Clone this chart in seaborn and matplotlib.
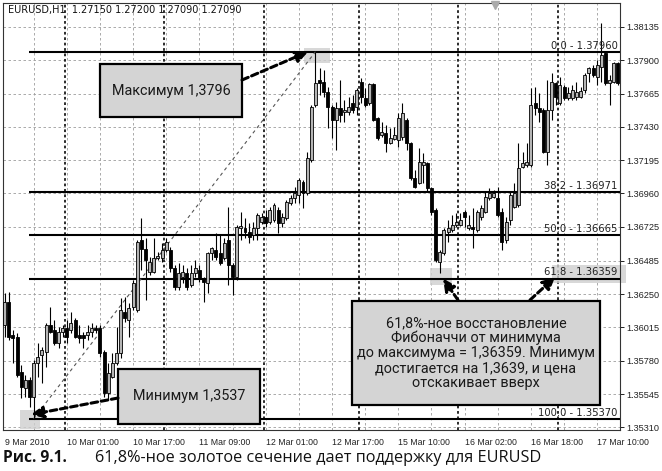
import numpy as np
import pandas as pd
import matplotlib
matplotlib.use("Agg")
import matplotlib.pyplot as plt
import seaborn as sns
from matplotlib.patches import Rectangle

sns.set_style("white")
plt.rcParams["font.family"] = ["DejaVu Sans"]

# --- data (EURUSD H1) ---
symbol_info = "EURUSD,H1  1.27150 1.27200 1.27090 1.27090"

opens = [
    1.36032, 1.36194, 1.35961, 1.35947, 1.35700, 1.35587, 1.35644, 1.35524, 1.35764, 1.35820,
    1.35841, 1.36032, 1.35997, 1.35905, 1.35983, 1.36011, 1.35997, 1.36067, 1.35961, 1.35961,
    1.35961, 1.35983, 1.36011, 1.36011, 1.35841, 1.35552, 1.35665, 1.35764, 1.35834, 1.36124,
    1.36067, 1.36159, 1.36138, 1.36632, 1.36568, 1.36406, 1.36406, 1.36505, 1.36505, 1.36561,
    1.36561, 1.36434, 1.36300, 1.36371, 1.36399, 1.36314, 1.36399, 1.36420, 1.36364, 1.36328,
    1.36540, 1.36561, 1.36540, 1.36505, 1.36632, 1.36455, 1.36371, 1.36717, 1.36717, 1.36688,
    1.36667, 1.36717, 1.36759, 1.36794, 1.36759, 1.36773, 1.36844, 1.36752, 1.36787, 1.36893,
    1.36928, 1.36949, 1.37041, 1.36964, 1.37196, 1.37585, 1.37761, 1.37747, 1.37676, 1.37570,
    1.37479, 1.37563, 1.37535, 1.37535, 1.37599, 1.37570, 1.37747, 1.37634, 1.37599, 1.37733,
    1.37493, 1.37373, 1.37387, 1.37316, 1.37345, 1.37338, 1.37359, 1.37479, 1.37316, 1.37069,
    1.37034, 1.37161, 1.37175, 1.36999, 1.36844, 1.36477, 1.36540, 1.36688, 1.36702, 1.36738,
    1.36738, 1.36829, 1.36717, 1.36724, 1.36702, 1.36794, 1.36829, 1.36928, 1.36935, 1.36928,
    1.36829, 1.36632, 1.36773, 1.36865, 1.36879, 1.37147, 1.37161, 1.37161, 1.37599, 1.37563,
    1.37549, 1.37253, 1.37549, 1.37740, 1.37599, 1.37712, 1.37634, 1.37634, 1.37641, 1.37641,
    1.37690, 1.37810, 1.37846, 1.37782, 1.37853, 1.37952, 1.37740, 1.37747, 1.37881,
]
highs = [
    1.36258, 1.36265, 1.35997, 1.35976, 1.35750, 1.35679, 1.35665, 1.35785, 1.35905, 1.35877,
    1.36046, 1.36159, 1.36067, 1.36018, 1.36032, 1.36067, 1.36124, 1.36081, 1.36032, 1.35983,
    1.36032, 1.36046, 1.36032, 1.36032, 1.35856, 1.35764, 1.35834, 1.36018, 1.36223, 1.36230,
    1.36187, 1.36350, 1.36632, 1.36787, 1.36646, 1.36512, 1.36646, 1.36547, 1.36611, 1.36646,
    1.36582, 1.36455, 1.36470, 1.36455, 1.36434, 1.36455, 1.36491, 1.36455, 1.36371, 1.36547,
    1.36582, 1.36681, 1.36667, 1.36646, 1.36865, 1.36470, 1.36738, 1.36829, 1.36787, 1.36752,
    1.36759, 1.36822, 1.36822, 1.36844, 1.36865, 1.36893, 1.36865, 1.36822, 1.36914, 1.36949,
    1.37006, 1.37069, 1.37055, 1.37253, 1.37585, 1.37960, 1.37846, 1.37832, 1.37712, 1.37585,
    1.37606, 1.37761, 1.37620, 1.37641, 1.37655, 1.37705, 1.37775, 1.37705, 1.37740, 1.37740,
    1.37500, 1.37465, 1.37443, 1.37422, 1.37429, 1.37528, 1.37599, 1.37493, 1.37323, 1.37126,
    1.37281, 1.37246, 1.37182, 1.37006, 1.36858, 1.36561, 1.36717, 1.36773, 1.36808, 1.36822,
    1.36822, 1.36844, 1.36808, 1.36858, 1.36844, 1.36879, 1.36971, 1.36999, 1.36985, 1.37006,
    1.36858, 1.36794, 1.36971, 1.37034, 1.37316, 1.37253, 1.37316, 1.37705, 1.37712, 1.37669,
    1.37563, 1.37761, 1.37810, 1.37747, 1.37782, 1.37726, 1.37712, 1.37726, 1.37747, 1.37712,
    1.37810, 1.37853, 1.37867, 1.37902, 1.38163, 1.37959, 1.37796, 1.37888, 1.37888,
]
lows = [
    1.35947, 1.35926, 1.35764, 1.35665, 1.35517, 1.35524, 1.35453, 1.35370, 1.35665, 1.35623,
    1.35736, 1.35976, 1.35891, 1.35870, 1.35947, 1.35905, 1.35976, 1.35940, 1.35905, 1.35870,
    1.35926, 1.35947, 1.35976, 1.35806, 1.35524, 1.35503, 1.35658, 1.35750, 1.35799, 1.36053,
    1.35947, 1.36138, 1.36124, 1.36420, 1.36208, 1.36385, 1.36399, 1.36491, 1.36477, 1.36547,
    1.36406, 1.36279, 1.36279, 1.36328, 1.36279, 1.36300, 1.36371, 1.36335, 1.36194, 1.36258,
    1.36491, 1.36491, 1.36455, 1.36491, 1.36314, 1.36244, 1.36350, 1.36632, 1.36646, 1.36611,
    1.36632, 1.36632, 1.36745, 1.36724, 1.36745, 1.36759, 1.36681, 1.36724, 1.36773, 1.36879,
    1.36893, 1.36893, 1.36858, 1.36949, 1.37182, 1.37570, 1.37655, 1.37641, 1.37422, 1.37352,
    1.37267, 1.37465, 1.37465, 1.37514, 1.37528, 1.37514, 1.37599, 1.37570, 1.37585, 1.37472,
    1.37338, 1.37359, 1.37253, 1.37309, 1.37338, 1.37288, 1.37338, 1.37267, 1.37055, 1.36999,
    1.37027, 1.37034, 1.36971, 1.36808, 1.36477, 1.36399, 1.36526, 1.36618, 1.36688, 1.36724,
    1.36731, 1.36724, 1.36702, 1.36575, 1.36688, 1.36773, 1.36822, 1.36914, 1.36928, 1.36794,
    1.36561, 1.36611, 1.36738, 1.36858, 1.36865, 1.37140, 1.37147, 1.37147, 1.37514, 1.37465,
    1.37246, 1.37161, 1.37479, 1.37585, 1.37585, 1.37620, 1.37620, 1.37620, 1.37620, 1.37634,
    1.37669, 1.37747, 1.37782, 1.37726, 1.37747, 1.37726, 1.37585, 1.37740, 1.37726,
]
closes = [
    1.36194, 1.35947, 1.35940, 1.35679, 1.35594, 1.35644, 1.35524, 1.35764, 1.35806, 1.35856,
    1.36032, 1.35983, 1.35905, 1.35983, 1.36011, 1.35947, 1.36046, 1.35947, 1.35940, 1.35940,
    1.35983, 1.36011, 1.35997, 1.35834, 1.35552, 1.35693, 1.35764, 1.35834, 1.36138, 1.36081,
    1.36152, 1.36328, 1.36618, 1.36568, 1.36491, 1.36477, 1.36505, 1.36519, 1.36561, 1.36618,
    1.36434, 1.36300, 1.36399, 1.36406, 1.36300, 1.36399, 1.36434, 1.36364, 1.36335, 1.36540,
    1.36575, 1.36512, 1.36470, 1.36611, 1.36455, 1.36371, 1.36724, 1.36731, 1.36688, 1.36653,
    1.36717, 1.36808, 1.36794, 1.36752, 1.36844, 1.36879, 1.36752, 1.36794, 1.36900, 1.36928,
    1.36964, 1.37055, 1.36964, 1.37211, 1.37570, 1.37740, 1.37740, 1.37676, 1.37570, 1.37479,
    1.37563, 1.37514, 1.37549, 1.37570, 1.37549, 1.37690, 1.37641, 1.37585, 1.37733, 1.37479,
    1.37352, 1.37394, 1.37316, 1.37352, 1.37373, 1.37493, 1.37528, 1.37316, 1.37069, 1.37006,
    1.37182, 1.37182, 1.36999, 1.36829, 1.36491, 1.36547, 1.36702, 1.36717, 1.36738, 1.36759,
    1.36773, 1.36794, 1.36738, 1.36709, 1.36829, 1.36858, 1.36935, 1.36964, 1.36964, 1.36808,
    1.36618, 1.36759, 1.36949, 1.36964, 1.37140, 1.37175, 1.37182, 1.37585, 1.37563, 1.37535,
    1.37253, 1.37549, 1.37747, 1.37641, 1.37726, 1.37634, 1.37669, 1.37690, 1.37676, 1.37683,
    1.37796, 1.37846, 1.37796, 1.37867, 1.37937, 1.37740, 1.37761, 1.37881, 1.37740,
]

price_ticks = [1.38135, 1.37900, 1.37665, 1.37430, 1.37195, 1.36960, 1.36725,
               1.36485, 1.36250, 1.36015, 1.35780, 1.35545, 1.35310]
time_labels = ["9 Mar 2010", "10 Mar 01:00", "10 Mar 17:00", "11 Mar 09:00", "12 Mar 01:00",
               "12 Mar 17:00", "15 Mar 10:00", "16 Mar 02:00", "16 Mar 18:00", "17 Mar 10:00"]
time_label_bars = [0, 15, 31, 47, 63, 79, 95, 111, 127, 143]
day_start_bars = [15, 39, 63, 86, 110, 134]

fib_low_bar, fib_low = 7, 1.3537
fib_high_bar, fib_high = 75, 1.3796
retrace_bar = 105
fib_levels = [0.0, 38.2, 50.0, 61.8, 100.0]

caption_num = "Рис. 9.1."
caption_text = "61,8%-ное золотое сечение дает поддержку для EURUSD"
note_max = "Максимум 1,3796"
note_min = "Минимум 1,3537"
note_fib = ("61,8%-ное восстановление\nФибоначчи от минимума\n"
            "до максимума = 1,36359. Минимум\nдостигается на 1,3639, и цена\n"
            "отскакивает вверх")

df = pd.DataFrame({"open": opens, "high": highs, "low": lows, "close": closes})
df["bar"] = np.arange(len(df))
df["bull"] = df["close"] >= df["open"]

# --- figure ---
fig = plt.figure(figsize=(6.62, 4.71), dpi=100)
ax = fig.add_axes([3 / 662, 41 / 471, 617 / 662, 427 / 471])

ax.set_xlim(-0.4, 148.5)
ax.set_ylim(1.35291, 1.38304)

# grid
for y in price_ticks:
    ax.axhline(y, color="#9c9c9c", lw=0.6, ls=(0, (3, 3)), zorder=0)
for xg in np.arange(7, len(df), 8):
    ax.axvline(xg, color="#9c9c9c", lw=0.6, ls=(0, (3, 3)), zorder=0)
for d in day_start_bars:
    ax.axvline(d - 0.5, color="#1a1a1a", lw=1.3, ls=(0, (1.5, 1.5)), zorder=0.5)

# highlight marks
hl = dict(facecolor="#cfcfcf", edgecolor="none", alpha=0.8, zorder=1)
ax.add_patch(Rectangle((fib_low_bar - 3.3, fib_low - 0.0007), 4.9, 0.0013, **hl))
ax.add_patch(Rectangle((fib_high_bar - 2.7, fib_high - 0.0008), 6.2, 0.00107, **hl))
ax.add_patch(Rectangle((retrace_bar - 2.3, lows[retrace_bar] - 0.00085), 5.3, 0.0012, **hl))
fib618 = fib_high - (fib_high - fib_low) * 0.618
ax.add_patch(Rectangle((132.1, fib618 - 0.00031), 17.8, 0.00127, clip_on=False, **hl))

# fibonacci levels
for lvl in fib_levels:
    price = fib_high - (fib_high - fib_low) * lvl / 100
    ax.hlines(price, fib_low_bar - 1.2, 148.5, color="black", lw=1.5, zorder=2)
    ax.annotate(f"{lvl:.1f} - {price:.5f}", xy=(0.996, price),
                xycoords=ax.get_yaxis_transform(), xytext=(0, 0.8),
                textcoords="offset points", ha="right", va="bottom",
                fontsize=7.2, color="#222222", zorder=4)

# trend line between the swing points
sns.lineplot(x=[fib_low_bar, fib_high_bar], y=[fib_low, fib_high], ax=ax,
             color="#555555", lw=0.8, linestyle=(0, (3, 3)), zorder=2)

# candles
ax.vlines(df["bar"], df["low"], df["high"], color="black", lw=0.8, zorder=3)
body_lo = df[["open", "close"]].min(axis=1)
body_h = (df["close"] - df["open"]).abs().clip(lower=0.00002)
ax.bar(df["bar"], body_h, bottom=body_lo, width=0.72,
       color=np.where(df["bull"], "#b5b5b5", "black"),
       edgecolor="black", linewidth=0.6, zorder=3)

# axes styling
ax.yaxis.tick_right()
ax.set_yticks(price_ticks)
ax.set_yticklabels([f"{p:.5f}" for p in price_ticks], family="Liberation Sans", fontsize=6.6)
ax.set_xticks(time_label_bars)
ax.set_xticklabels(time_labels, ha="left", family="Liberation Sans", fontsize=6.3)
ax.tick_params(axis="both", length=3, width=0.7, colors="#222222", pad=1.5)
ax.tick_params(axis="x", pad=3)
for s in ax.spines.values():
    s.set_color("#333333")
    s.set_linewidth(0.8)
ax.set_xlabel("")
ax.set_ylabel("")

ax.text(0.008, 0.984, symbol_info, transform=ax.transAxes, fontsize=7,
        ha="left", va="center", color="#111111")
ax.plot([0.797], [0.995], marker="v", color="#aaaaaa", markersize=6,
        transform=ax.transAxes, clip_on=False, zorder=6)

# callout boxes
box_font = dict(family=["Roboto", "DejaVu Sans"], fontsize=10.4, color="#1a1a1a")
boxes = [
    (0.1572, 0.733, 0.2302, 0.124, note_max),
    (0.1864, 0.014, 0.2301, 0.129, note_min),
    (0.5656, 0.0585, 0.402, 0.2436, note_fib),
]
for bx, by, bw, bh, txt in boxes:
    ax.add_patch(Rectangle((bx, by), bw, bh, transform=ax.transAxes,
                           facecolor="#d4d4d4", edgecolor="black", lw=1.6, zorder=7))
    ax.text(bx + bw / 2, by + bh / 2, txt, transform=ax.transAxes, ha="center",
            va="center", linespacing=1.08, zorder=8, **box_font)

arrow = dict(arrowstyle="-|>,head_length=0.7,head_width=0.35", lw=2.2,
             ls=(0, (2.2, 1.2)), color="black", shrinkA=0, shrinkB=0)
ax.annotate("", xy=(fib_high_bar - 1.8, fib_high), xytext=(0.3874, 0.8197),
            textcoords="axes fraction", arrowprops=arrow, zorder=8)
ax.annotate("", xy=(fib_low_bar - 0.6, fib_low + 0.0003), xytext=(0.1864, 0.0749),
            textcoords="axes fraction", arrowprops=arrow, zorder=8)
ax.annotate("", xy=(retrace_bar + 0.8, fib618), xytext=(0.7374, 0.3044),
            textcoords="axes fraction", arrowprops=arrow, zorder=8)
ax.annotate("", xy=(132.8, fib618 + 0.0001), xytext=(0.8541, 0.3044),
            textcoords="axes fraction", arrowprops=arrow, zorder=8)

# caption
fig.text(3 / 662, 1 - 458 / 471, caption_num, fontsize=11.2, fontweight="bold",
         family=["Open Sans", "DejaVu Sans"], va="center", ha="left", color="#111111")
fig.text(95 / 662, 1 - 458 / 471, caption_text, fontsize=11.7,
         family=["Open Sans", "DejaVu Sans"], va="center", ha="left", color="#111111")

fig.savefig("out.png", dpi=100, facecolor="white")
